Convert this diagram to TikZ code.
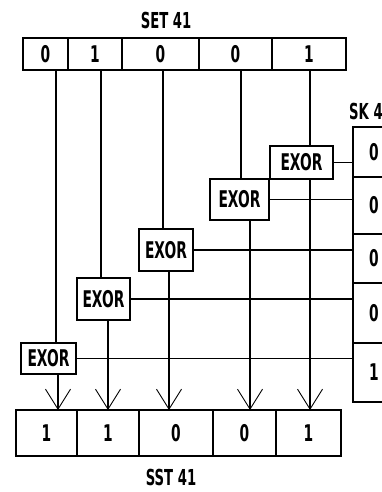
\documentclass[tikz,border=0pt]{standalone}
\usepackage{fontspec}
\newfontfamily\pixfont{DejaVu Sans}[FakeStretch=0.6]
\usetikzlibrary{arrows.meta,positioning}
\tikzset{
  cell/.style={draw,line width=1.3pt,inner sep=0pt,outer sep=0pt,font=\pixfont\bfseries\fontsize{23}{23}\selectfont},
  gate/.style={draw,fill=white,line width=1.3pt,inner sep=0pt,outer sep=0pt,font=\pixfont\bfseries\fontsize{23}{23}\selectfont},
  tag/.style={inner sep=0pt,font=\pixfont\bfseries\fontsize{22}{22}\selectfont},
  wire/.style={line width=1.2pt},
  feed/.style={wire,-{Straight Barb[length=20pt,width=25pt,line width=.9pt]}},
}
\begin{document}
\begin{tikzpicture}[x=1pt,y=-1pt]
  \useasboundingbox (0,0) rectangle (382,492);
  \clip (0,0) rectangle (382,492);
  % plaintext row
  \node[tag] (set) at (166,20) {SET 41};
  \foreach \xa/\xb/\v [count=\i] in {23/68/0,68/122/1,122/199/0,199/272/0,272/346/1}
    \node[cell,minimum width={(\xb-\xa)*1pt},minimum height=32pt] (t\i) at ({(\xa+\xb)/2},54) {\v};
  % key column
  \node[tag,anchor=west] (sk) at (349,111) {SK 41};
  \foreach \ya/\yb/\v [count=\i] in {127/177/0,177/234/0,234/283/0,283/343/0,343/402/1}
    \node[cell,minimum width=42pt,minimum height={(\yb-\ya)*1pt}] (k\i) at (374,{(\ya+\yb)/2}) {\v};
  % cipher row
  \node[tag] (sst) at (171,477) {SST 41};
  \foreach \xa/\xb/\v [count=\i] in {16/77/1,77/139/1,139/213/0,213/276/0,276/341/1}
    \node[cell,minimum width={(\xb-\xa)*1pt},minimum height=46pt] (b\i) at ({(\xa+\xb)/2},433) {\v};
  % gates
  \node[gate,minimum width=55pt,minimum height=31pt] (e1) at (48.5,358.5) {EXOR};
  \node[gate,minimum width=53pt,minimum height=42pt] (e2) at (103.5,299) {EXOR};
  \node[gate,minimum width=54pt,minimum height=42pt] (e3) at (166,250) {EXOR};
  \node[gate,minimum width=59pt,minimum height=41pt] (e4) at (239.5,199.5) {EXOR};
  \node[gate,minimum width=63pt,minimum height=33pt] (e5) at (301.5,162.5) {EXOR};
  % taps
  \foreach \x [count=\i] in {56,101,163,241,310}
    \coordinate (s\i) at (\x,70);
  \foreach \x [count=\i] in {58,108,169,250,310}
    \coordinate (r\i) at (\x,410);
  \foreach \i in {1,...,5} {
    \draw[wire] (s\i) -- (s\i |- e\i.north);
    \draw[wire] (e\i.east) -- (e\i.east -| k1.west);
    \draw[feed] (r\i |- e\i.south) -- (r\i);
  }
\end{tikzpicture}
\end{document}
